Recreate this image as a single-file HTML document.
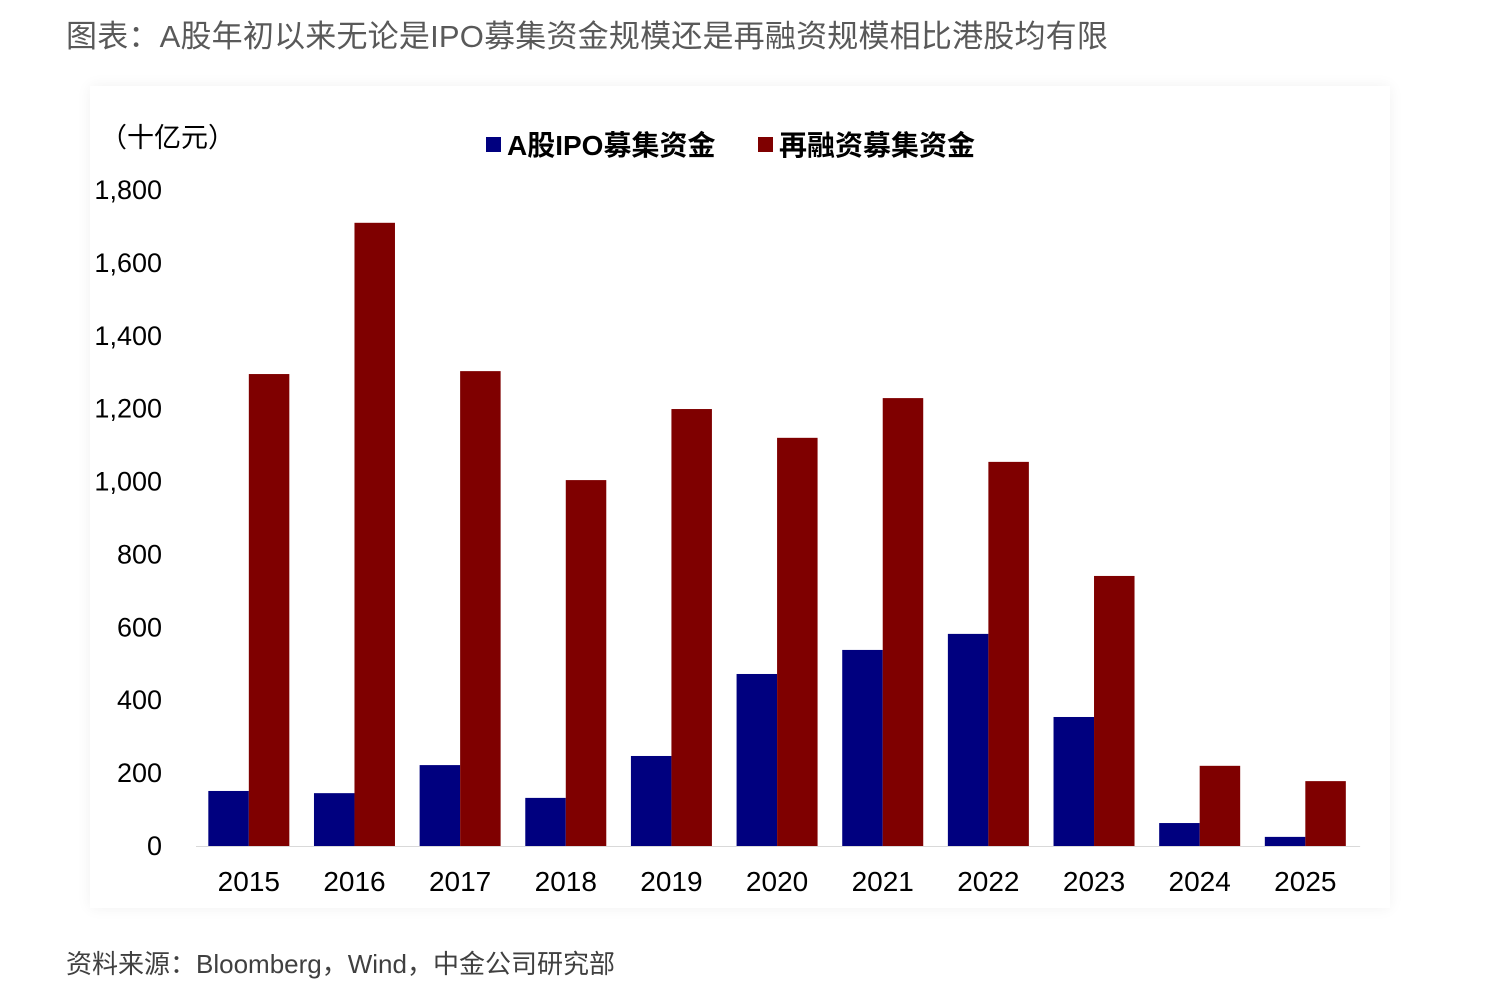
<!DOCTYPE html>
<html><head><meta charset="utf-8">
<style>
body{margin:0;background:#fff;width:1509px;height:993px;overflow:hidden;font-family:"Liberation Sans","Noto Sans CJK SC",sans-serif;}
#title{position:absolute;left:66px;top:11px;font-size:31px;color:#595959;letter-spacing:0.2px;}
#source{position:absolute;left:66px;top:944px;font-size:26px;color:#404040;}
#panel{position:absolute;left:90px;top:86px;width:1300px;height:822px;background:#fff;box-shadow:0 0 14px rgba(0,0,0,0.06);}
svg{position:absolute;left:0;top:0;}
</style></head><body>
<div id="title">图表：A股年初以来无论是IPO募集资金规模还是再融资规模相比港股均有限</div>
<div id="panel"></div>
<svg id="chart" width="1509" height="993"></svg>
<div id="source">资料来源：Bloomberg，Wind，中金公司研究部</div>
<script>
const categories=["2015","2016","2017","2018","2019","2020","2021","2022","2023","2024","2025"];
const ipoValues=[151,145,222,132,247,472,538,582,354,63,25];
const refiValues=[1295,1710,1303,1004,1199,1120,1229,1054,741,220,178];
const yTicks=[0,200,400,600,800,1000,1200,1400,1600,1800];
const yTickLabels=["0","200","400","600","800","1,000","1,200","1,400","1,600","1,800"];
const seriesNames=["A股IPO募集资金","再融资募集资金"];

const NS="http://www.w3.org/2000/svg";
const svg=document.getElementById('chart');
const x0=196,band=105.65,y0=846,yTop=190,yMax=1800;
const yScale=v=>y0-(v/yMax)*(y0-yTop);
const xBand=i=>x0+i*band;
function mk(tag,attrs,text){const e=document.createElementNS(NS,tag);for(const k in attrs)e.setAttribute(k,attrs[k]);if(text!==undefined)e.textContent=text;svg.appendChild(e);return e;}

yTicks.forEach((t,i)=>{
  const e=mk('text',{x:162,y:yScale(t)+9,'text-anchor':'end','font-size':27,fill:'#000'},yTickLabels[i]);
  
  
});
const unit=mk('text',{x:100,y:147,'font-size':27,fill:'#000'},'（十亿元）');



categories.forEach((c,i)=>{
  const cx=xBand(i)+band/2;
  const bw=40.5;
  const b=mk('rect',{x:cx-bw,y:yScale(ipoValues[i]),width:bw,height:y0-yScale(ipoValues[i]),fill:'#00007f'});
  
  
  const r=mk('rect',{x:cx,y:yScale(refiValues[i]),width:bw,height:y0-yScale(refiValues[i]),fill:'#7f0000'});
  
  
  const l=mk('text',{x:cx,y:891,'text-anchor':'middle','font-size':28,fill:'#000'},c);
  
  
});
const ax=mk('line',{x1:x0,x2:x0+band*categories.length+2,y1:y0+0.5,y2:y0+0.5,stroke:'#d9d9d9','stroke-width':1});



const legX=[486,758],legC=['#00007f','#7f0000'];
seriesNames.forEach((n,i)=>{
  const s=mk('rect',{x:legX[i],y:137,width:15,height:15,fill:legC[i]});
  
  
  const t=mk('text',{x:legX[i]+21,y:155,'font-size':28,'font-weight':'bold',fill:'#000'},n);
  
  
});
</script>
</body></html>
